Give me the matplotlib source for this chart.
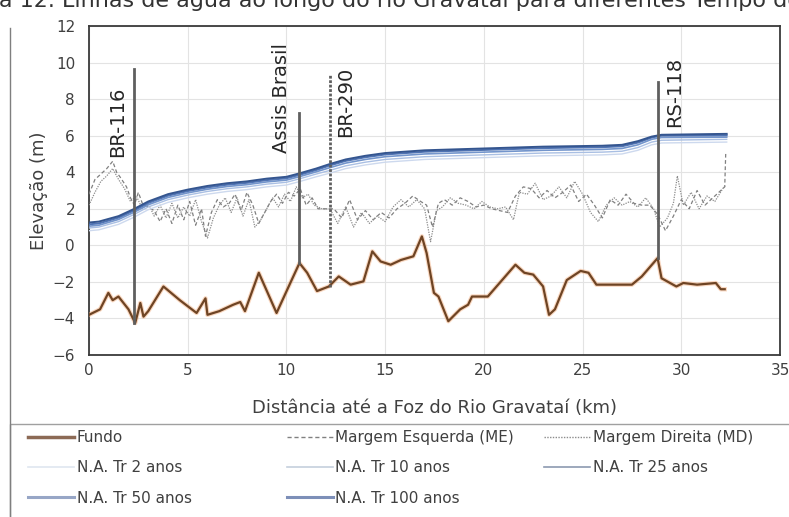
import matplotlib
matplotlib.use("Agg")
import matplotlib.pyplot as plt
from matplotlib.lines import Line2D
from matplotlib.patches import Rectangle

# Fundo (leito do rio)
x_fundo = [0, 0.56, 0.98, 1.2, 1.49, 2.0, 2.34, 2.6, 2.76, 3.0, 3.77, 4.6, 5.45, 5.9, 6.0,
           6.6, 7.3, 7.66, 7.9, 8.6, 9.5, 10.2, 10.66, 11.05, 11.55, 12.15, 12.65, 13.25,
           13.9, 14.35, 14.77, 15.28, 15.8, 16.43, 16.86, 17.1, 17.47, 17.7, 18.2, 18.8,
           19.2, 19.4, 20.2, 21.6, 22.05, 22.5, 23.0, 23.3, 23.6, 24.2, 24.9, 25.3, 25.7,
           26.6, 27.5, 28.0, 28.8, 29.0, 29.75, 30.1, 30.8, 31.75, 32.0, 32.2]
y_fundo = [-3.8, -3.5, -2.6, -3.0, -2.8, -3.5, -4.25, -3.15, -3.9, -3.6, -2.25, -3.0, -3.7,
           -2.9, -3.8, -3.6, -3.25, -3.1, -3.6, -1.5, -3.7, -2.05, -0.97, -1.5, -2.5, -2.25,
           -1.7, -2.15, -1.97, -0.33, -0.88, -1.06, -0.8, -0.6, 0.49, -0.42, -2.6, -2.8,
           -4.15, -3.5, -3.25, -2.8, -2.8, -1.06, -1.5, -1.6, -2.25, -3.8, -3.5, -1.9,
           -1.4, -1.5, -2.15, -2.15, -2.15, -1.7, -0.7, -1.8, -2.25, -2.06, -2.15, -2.06,
           -2.4, -2.4]

# Margem Esquerda (ME)
x_me = [0, 0.3, 0.6, 0.9, 1.2, 1.4, 1.6, 1.9, 2.1, 2.3, 2.5, 2.7, 3.0, 3.3, 3.6, 3.9, 4.2,
        4.5, 4.8, 5.1, 5.4, 5.7, 5.9, 6.2, 6.5, 6.8, 7.1, 7.4, 7.7, 8.0, 8.3, 8.6, 8.9, 9.2,
        9.5, 9.8, 10.1, 10.4, 10.7, 11.0, 11.3, 11.6, 12.0, 12.4, 12.8, 13.2, 13.6, 14.0,
        14.4, 14.8, 15.2, 15.6, 16.0, 16.4, 16.8, 17.1, 17.4, 17.7, 18.0, 18.4, 18.8, 19.2,
        19.6, 20.0, 20.4, 20.8, 21.2, 21.6, 22.0, 22.4, 22.8, 23.2, 23.6, 24.0, 24.4, 24.8,
        25.2, 25.6, 26.0, 26.4, 26.8, 27.2, 27.6, 28.0, 28.4, 28.8, 29.2, 29.6, 30.0, 30.4,
        30.8, 31.2, 31.6, 32.0, 32.2, 32.25]
y_me = [2.8, 3.6, 3.9, 4.2, 4.6, 4.0, 3.7, 3.2, 2.6, 2.2, 2.9, 2.3, 2.1, 1.9, 1.3, 2.0, 1.2,
        2.2, 1.4, 2.4, 1.1, 2.0, 0.5, 1.8, 2.5, 2.1, 2.3, 2.8, 1.9, 2.9, 2.2, 1.2, 1.8, 2.4,
        2.8, 2.3, 2.9, 2.7, 3.1, 2.2, 2.6, 2.0, 2.0, 2.0, 1.5, 2.5, 1.4, 1.9, 1.4, 1.8, 1.5,
        2.0, 2.3, 2.7, 2.4, 2.2, 1.0, 2.3, 2.5, 2.2, 2.6, 2.4, 2.1, 2.2, 2.0, 1.9, 1.8, 2.7,
        3.2, 3.1, 2.6, 3.0, 2.6, 2.9, 3.3, 2.4, 2.8, 2.2, 1.5, 2.5, 2.2, 2.8, 2.3, 2.2, 2.2,
        1.7, 0.8, 1.6, 2.5, 2.0, 3.0, 2.2, 2.6, 3.0, 3.2, 5.0]

# Margem Direita (MD)
x_md = [0, 0.3, 0.6, 0.9, 1.2, 1.5, 1.8, 2.1, 2.4, 2.7, 3.0, 3.3, 3.6, 3.9, 4.2, 4.5, 4.8,
        5.1, 5.4, 5.7, 6.0, 6.3, 6.6, 6.9, 7.2, 7.5, 7.8, 8.1, 8.4, 8.7, 9.0, 9.3, 9.6, 9.9,
        10.2, 10.5, 10.8, 11.1, 11.4, 11.8, 12.2, 12.6, 13.0, 13.4, 13.8, 14.2, 14.6, 15.0,
        15.4, 15.8, 16.2, 16.6, 17.0, 17.3, 17.6, 17.9, 18.3, 18.7, 19.1, 19.5, 19.9, 20.3,
        20.7, 21.1, 21.5, 21.8, 22.2, 22.6, 23.0, 23.4, 23.8, 24.2, 24.6, 25.0, 25.4, 25.8,
        26.2, 26.6, 27.0, 27.4, 27.8, 28.2, 28.6, 28.9, 29.3, 29.6, 29.8, 30.1, 30.5, 30.9,
        31.3, 31.7, 32.1, 32.25]
y_md = [2.2, 2.9, 3.5, 3.8, 4.2, 3.6, 3.1, 2.4, 2.7, 2.0, 2.3, 1.6, 2.2, 1.5, 2.3, 1.5, 2.1,
        1.6, 2.5, 1.3, 0.4, 1.5, 2.2, 2.6, 1.8, 2.6, 1.6, 2.5, 1.0, 1.4, 2.0, 2.6, 2.1, 2.8,
        2.4, 3.2, 2.6, 2.8, 2.2, 2.0, 2.0, 1.2, 2.1, 1.0, 1.8, 1.2, 1.6, 1.3, 2.1, 2.5, 2.1,
        2.5, 2.0, 0.2, 1.9, 2.1, 2.6, 2.3, 2.2, 2.0, 2.4, 2.1, 2.0, 2.1, 1.4, 2.9, 2.8, 3.4,
        2.5, 2.7, 3.2, 2.6, 3.5, 2.8, 1.8, 1.3, 2.2, 2.6, 2.2, 2.4, 2.1, 2.6, 2.0, 1.0, 1.5,
        2.3, 3.8, 2.2, 2.9, 2.0, 2.7, 2.4, 3.1, 3.3]

# Níveis de água (N.A.) por tempo de retorno
x_na = [0, 0.5, 1.5, 2.3, 3, 4, 5, 6, 7, 8, 9, 10, 10.7, 11.5, 12.2, 13, 14, 15, 17, 20,
        23, 26, 27, 27.8, 28.5, 29, 32.3]
na_tr2 = [0.8, 0.85, 1.15, 1.55, 1.95, 2.35, 2.6, 2.8, 2.95, 3.05, 3.2, 3.3, 3.5, 3.75,
          3.95, 4.2, 4.4, 4.55, 4.7, 4.8, 4.9, 4.95, 5.0, 5.2, 5.5, 5.6, 5.65]
na_tr10 = [0.95, 1.0, 1.3, 1.7, 2.1, 2.5, 2.75, 2.95, 3.1, 3.2, 3.35, 3.45, 3.65, 3.9,
           4.1, 4.35, 4.55, 4.7, 4.85, 4.95, 5.05, 5.1, 5.15, 5.35, 5.65, 5.75, 5.8]
na_tr25 = [1.05, 1.1, 1.42, 1.82, 2.22, 2.62, 2.87, 3.07, 3.22, 3.32, 3.47, 3.57, 3.77,
           4.02, 4.25, 4.5, 4.7, 4.85, 5.0, 5.1, 5.2, 5.25, 5.3, 5.5, 5.8, 5.9, 5.92]
na_tr50 = [1.15, 1.2, 1.52, 1.92, 2.32, 2.72, 2.97, 3.17, 3.32, 3.42, 3.57, 3.67, 3.87,
           4.12, 4.37, 4.62, 4.82, 4.97, 5.12, 5.22, 5.32, 5.37, 5.42, 5.62, 5.9, 6.0, 6.02]
na_tr100 = [1.25, 1.3, 1.6, 2.0, 2.4, 2.8, 3.05, 3.25, 3.4, 3.5, 3.65, 3.75, 3.95, 4.2,
            4.45, 4.7, 4.9, 5.05, 5.2, 5.3, 5.4, 5.45, 5.5, 5.7, 5.95, 6.05, 6.1]

# Pontes: nome, posição (km), base, topo, posição do rótulo
ponte_nome = ["BR-116", "Assis Brasil", "BR-290", "RS-118"]
ponte_x = [2.3, 10.66, 12.2, 28.8]
ponte_base = [-4.25, -0.97, -2.3, -0.7]
ponte_topo = [9.65, 7.25, 9.3, 8.95]
rotulo_x = [1.47, 9.75, 13.0, 29.65]
rotulo_y = [4.85, 5.05, 5.95, 6.5]

cinza_txt = "#404040"

fig = plt.figure(figsize=(7.89, 5.17), dpi=100)
ax = fig.add_axes([0.1128, 0.3133, 0.8758, 0.6364])

na_labels = ["N.A. Tr 2 anos", "N.A. Tr 10 anos", "N.A. Tr 25 anos", "N.A. Tr 50 anos",
             "N.A. Tr 100 anos"]
na_series = [na_tr2, na_tr10, na_tr25, na_tr50, na_tr100]
na_cores = ["#cdd9ee", "#a9bfe3", "#7395cc", "#4f73b3", "#34558f"]
na_lw = [1.0, 1.0, 1.2, 1.4, 1.4]

ax.plot(x_fundo, y_fundo, color="#f4b183", lw=3.2, alpha=0.5, zorder=3)
ax.plot(x_fundo, y_fundo, color="#6e4424", lw=1.6, zorder=4)
ax.plot(x_me, y_me, color="#808080", lw=0.9, ls=(0, (3, 2)), zorder=3)
ax.plot(x_md, y_md, color="#8c8c8c", lw=0.9, ls=(0, (1, 1)), zorder=3)
for ys, c, lw in zip(na_series, na_cores, na_lw):
    ax.plot(x_na, ys, color=c, lw=lw, zorder=3)

for nome, px, b, t, rx, ry in zip(ponte_nome, ponte_x, ponte_base, ponte_topo,
                                  rotulo_x, rotulo_y):
    estilo = (0, (1, 0.6)) if nome == "BR-290" else "-"
    ax.plot([px, px], [b, t], color="#5f5f5f", lw=2, ls=estilo, zorder=5)
    ax.text(rx, ry, nome, rotation=90, ha="center", va="bottom", fontsize=14,
            color="#262626", zorder=6)

ax.set_xlim(0, 35)
ax.set_ylim(-6, 12)
ax.set_xticks(range(0, 36, 5))
ax.set_yticks(range(-6, 13, 2))
ax.grid(True, color="#e3e3e3", lw=0.8)
ax.set_axisbelow(True)
ax.tick_params(length=0, labelsize=11, labelcolor=cinza_txt)
ax.tick_params(axis="x", pad=6)
ax.tick_params(axis="y", pad=10)
for s in ax.spines.values():
    s.set_color("#3a3a3a")
    s.set_linewidth(1.3)
ax.set_xlabel("Distância até a Foz do Rio Gravataí (km)", fontsize=13, color=cinza_txt,
              labelpad=15)
ax.set_ylabel("Elevação (m)", fontsize=13, color=cinza_txt, labelpad=3)

# legenda: três colunas alinhadas como no original
h_fundo = Line2D([], [], color="#8c6a55", lw=2.5)
h_me = Line2D([], [], color="#808080", lw=1.0, ls=(0, (3, 2)))
h_md = Line2D([], [], color="#8c8c8c", lw=1.0, ls=(0, (1, 1)))
h_na = [Line2D([], [], color=c, lw=lw) for c, lw in
        zip(["#dfe6f0", "#c5cfdd", "#8c9ab0", "#97a6c6", "#7d8fb8"], [1.2, 1.2, 1.2, 2.2, 2.2])]
colunas = [([h_fundo, h_na[0], h_na[3]], ["Fundo", na_labels[0], na_labels[3]]),
           ([h_me, h_na[1], h_na[4]], ["Margem Esquerda (ME)", na_labels[1], na_labels[4]]),
           ([h_md, h_na[2]], ["Margem Direita (MD)", na_labels[2]])]
col_x = [0.036, 0.364, 0.690]
for (hs, labs), cx in zip(colunas, col_x):
    leg = fig.legend(hs, labs, loc="upper left", bbox_to_anchor=(cx, 0.168),
                     fontsize=11, frameon=False, handlelength=3.0, handletextpad=0.15,
                     labelspacing=1.0, borderaxespad=0.0, borderpad=0.0)
    for t in leg.get_texts():
        t.set_color(cinza_txt)

fig.add_artist(Rectangle((0.0127, -0.05), 1.0, 0.23, transform=fig.transFigure,
                         facecolor="none", edgecolor="#a0a0a0", lw=1.0))

# borda esquerda da página
fig.add_artist(Line2D([0.0127, 0.0127], [0.0, 0.945], color="#7f7f7f", lw=1.0,
                      transform=fig.transFigure))

# título cortado no topo, como na imagem original
fig.text(-0.071, 0.9865, "Figura 12. Linhas de água ao longo do rio Gravataí para "
         "diferentes Tempo de Retorno", fontsize=16, color="#333333", va="baseline",
         ha="left")

fig.savefig("out.png", dpi=100)
